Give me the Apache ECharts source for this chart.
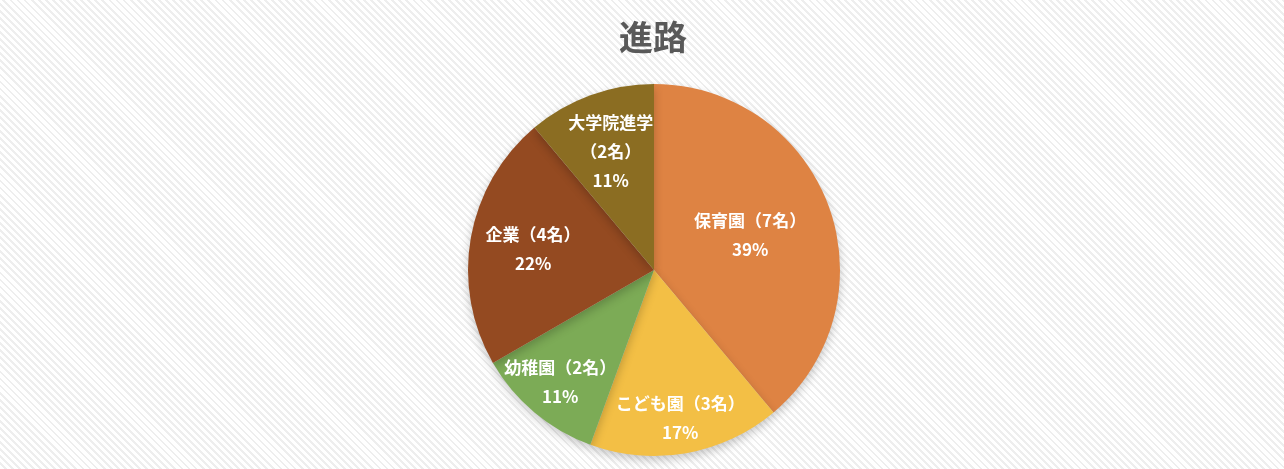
<!DOCTYPE html>
<html><head><meta charset="utf-8">
<script src="https://cdn.jsdelivr.net/npm/echarts@6/dist/echarts.min.js"></script>
<style>
html,body{margin:0;padding:0;width:1284px;height:469px;overflow:hidden;}
body{background:#fff repeating-linear-gradient(45deg,#ffffff 0px,#ffffff 3px,#eeeeee 3px,#eeeeee 5px);}
#c{width:1284px;height:469px;}
</style></head>
<body><div id="c"></div>
<script>
const categories = ['保育園','こども園','幼稚園','企業','大学院進学'];
const counts = [7,3,2,4,2];
const unit = '名';

const colors = ['#DE8343','#F3BF45','#7CAB56','#944A21','#8B6D22'];
// label distance from center, as fraction of pie radius (Excel "best fit" look)
const labelRadius = [0.55,0.81,0.785,0.66,0.68];
const center = [654,270];
const radius = 186;

const chart = echarts.init(document.getElementById('c'), null, {renderer:'canvas'});
chart.setOption({
  backgroundColor:'transparent',
  title:{text:'進路',left:648,textAlign:'center',top:15,textStyle:{fontFamily:'Noto Sans CJK JP',fontSize:34,fontWeight:'bold',color:'#595959'}},
  series:[{
    type:'pie',
    center:center,
    radius:radius,
    startAngle:90,
    clockwise:true,
    avoidLabelOverlap:false,
    silent:true,
    data:categories.map((n,i)=>({name:n,value:counts[i],itemStyle:{color:colors[i]}})),
    itemStyle:{shadowBlur:10,shadowOffsetY:4,shadowColor:'rgba(0,0,0,0.22)'},
    label:{
      show:true,position:'inside',color:'#ffffff',fontFamily:'Noto Sans CJK JP',fontWeight:'bold',fontSize:17,lineHeight:29,align:'center',
      formatter:p=>p.name+(p.name.length>4?'\n':'')+'（'+p.value+unit+'）\n'+Math.round(p.percent)+'%'
    },
    labelLine:{show:false},
    labelLayout:function(p){
      const r=p.labelRect;
      const mx=r.x+r.width/2, my=r.y+r.height/2;
      const dx=mx-center[0], dy=my-center[1];
      const d=Math.sqrt(dx*dx+dy*dy)||1;
      const k=labelRadius[p.dataIndex]*radius/d;
      return {x:center[0]+dx*k,y:center[1]+dy*k,align:'center',verticalAlign:'middle'};
    }
  }]
});
</script></body></html>
